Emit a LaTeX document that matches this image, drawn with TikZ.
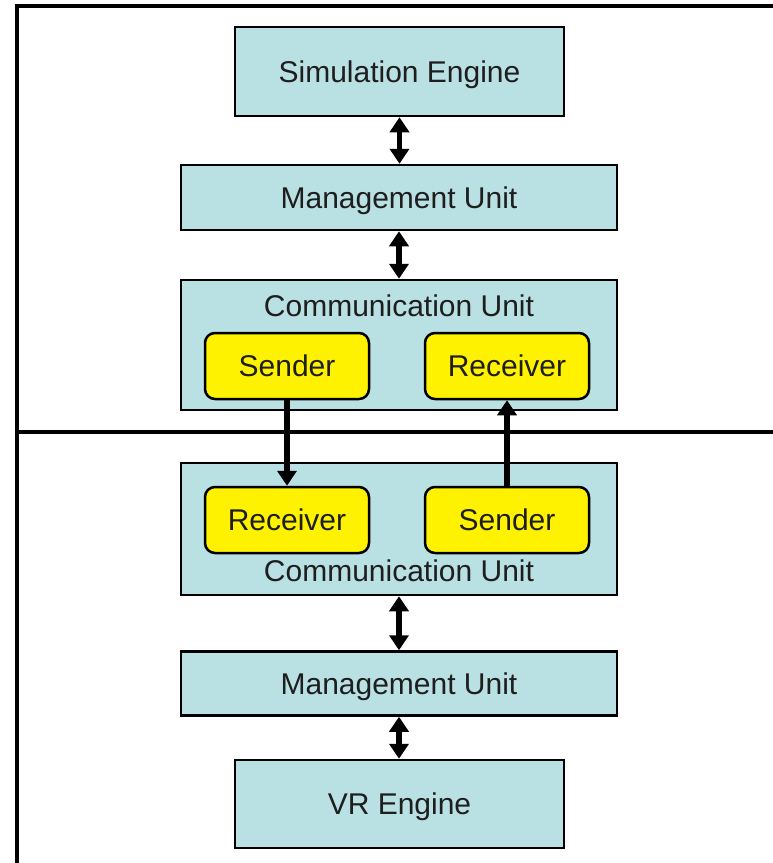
\documentclass[tikz,border=0pt]{standalone}
\usepackage{fontspec}
\setmainfont{Liberation Sans}
\usetikzlibrary{arrows.meta}
\definecolor{boxblue}{RGB}{185,224,227}
\definecolor{txt}{RGB}{30,30,30}
\tikzset{
  bluebox/.style={draw=black, line width=2.5pt, fill=boxblue, inner sep=0pt, text=txt, text height=21.5pt, text depth=0pt, font=\fontsize{30}{34}\selectfont},
  yellowbox/.style={draw=black, line width=2.5pt, fill=yellow, rounded corners=10pt, inner sep=0pt, minimum width=164pt, minimum height=66pt, text=txt, text height=21.5pt, text depth=0pt, font=\fontsize{30}{34}\selectfont},
  lbl/.style={text=txt, font=\fontsize{30}{34}\selectfont, inner sep=0pt, text height=21.5pt, text depth=0pt},
  dblarrow/.style={line width=5.5pt, {Triangle[width=19pt,length=15pt]}-{Triangle[width=19pt,length=15pt]}},
  onearrow/.style={line width=5.5pt, -{Triangle[width=19pt,length=15pt]}},
  frameline/.style={line width=3.5pt, black}
}
\begin{document}
\begin{tikzpicture}[x=1pt,y=-1pt]
\useasboundingbox (0,0) rectangle (773,863);
\fill[white] (0,0) rectangle (773,863);
% frame
\draw[frameline] (17,863) -- (17,6) -- (773,6);
\draw[frameline] (17,432) -- (773,432);
% top half
\node[bluebox, minimum width=329pt, minimum height=89pt] (sim) at (399.5,71.5) {Simulation Engine};
\node[bluebox, minimum width=436pt, minimum height=65pt] (mgmt1) at (399,197.5) {Management Unit};
\node[bluebox, minimum width=436pt, minimum height=130pt] (comm1) at (399,345) {};
\node[lbl] (comm1lbl) at (399,306) {Communication Unit};
\node[yellowbox] (send1) at (287,366) {Sender};
\node[yellowbox] (recv1) at (507,366) {Receiver};
% bottom half
\node[bluebox, minimum width=436pt, minimum height=132pt] (comm2) at (399,529) {};
\node[yellowbox] (recv2) at (287,520) {Receiver};
\node[yellowbox] (send2) at (507,520) {Sender};
\node[lbl] (comm2lbl) at (399,571) {Communication Unit};
\node[bluebox, minimum width=436pt, minimum height=64pt] (mgmt2) at (399,683.5) {Management Unit};
\node[bluebox, minimum width=329pt, minimum height=88pt] (vr) at (399.5,804) {VR Engine};
% connectors
\draw[dblarrow] (sim.south) -- (mgmt1.north -| sim.south);
\draw[dblarrow] (mgmt1.south) -- (comm1.north);
\draw[onearrow] (send1.south) -- (recv2.north);
\draw[onearrow] (send2.north) -- (recv1.south);
\draw[dblarrow] (comm2.south) -- (mgmt2.north);
\draw[dblarrow] (mgmt2.south) -- (vr.north -| mgmt2.south);
\end{tikzpicture}
\end{document}
